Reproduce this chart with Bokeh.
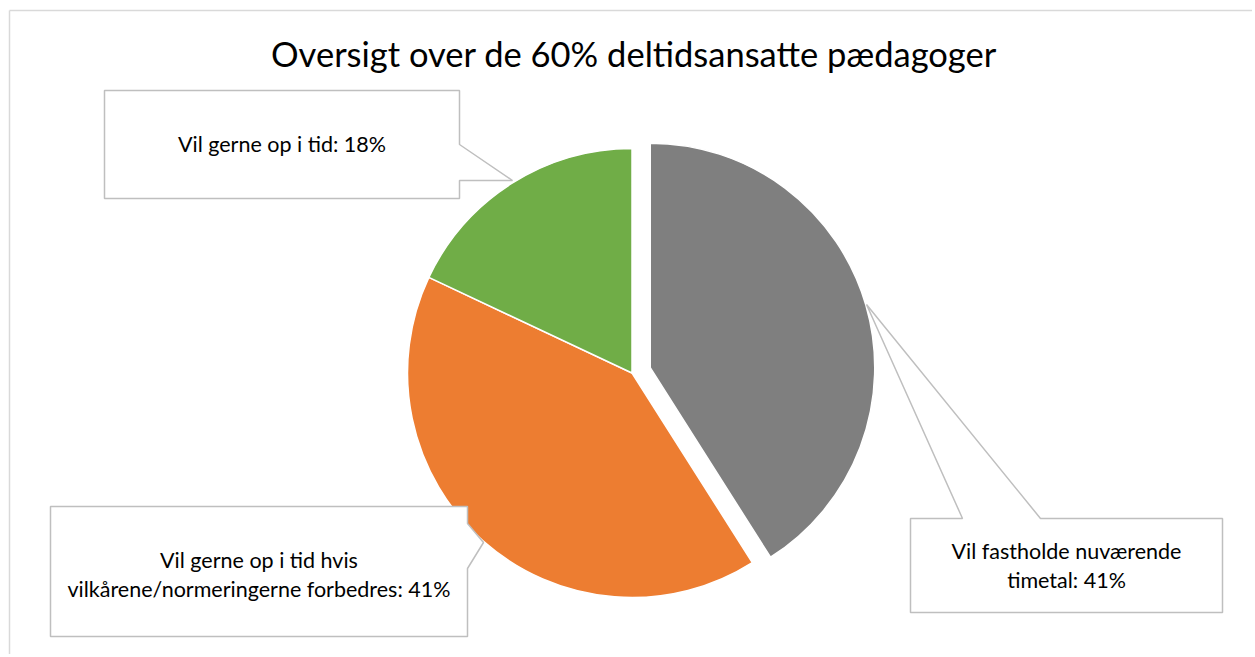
from bokeh.plotting import figure
from bokeh.models import Range1d
from bokeh.core.properties import value
from bokeh.embed import file_html
from bokeh.resources import INLINE
import numpy as np

# ---- data ----
title = "Oversigt over de 60% deltidsansatte pædagoger"
categories = ["Vil fastholde nuværende timetal",
              "Vil gerne op i tid hvis vilkårene/normeringerne forbedres",
              "Vil gerne op i tid"]
values = [41, 41, 18]
colors = ["#7f7f7f", "#ed7d31", "#70ad47"]
label_lines = [["Vil fastholde nuværende", "timetal: 41%"],
               ["Vil gerne op i tid hvis", "vilkårene/normeringerne forbedres: 41%"],
               ["Vil gerne op i tid: 18%"]]
explode = [19, 0, 0]

# ---- layout (screen pixel space) ----
W, H = 1252, 654
OX, OY = 0, 0


def sx(X):
    return X - OX


def sy(Y):
    return (OY + H) - Y


p = figure(width=W, height=H, output_backend="svg", toolbar_location=None,
           x_range=Range1d(0, W), y_range=Range1d(0, H),
           x_axis_type=None, y_axis_type=None,
           min_border=0, min_border_left=0, min_border_right=0,
           min_border_top=0, min_border_bottom=0)
p.grid.visible = False
p.outline_line_color = None
p.background_fill_color = "white"
p.border_fill_color = "white"

# outer chart-area border (right/bottom lie outside the window)
p.segment(x0=[sx(9), sx(9)], y0=[sy(10), sy(10)], x1=[sx(1300), sx(9)], y1=[sy(10), sy(700)],
          line_color="#d9d9d9", line_width=1.5)

# ---- pie ----
cx, cy, r = sx(631.5), sy(372.5), 224.5
total = float(sum(values))
cum = np.cumsum([0] + values) / total * 360.0
for i, v in enumerate(values):
    a0_cw, a1_cw = cum[i], cum[i + 1]
    start = np.deg2rad(90 - a1_cw)
    end = np.deg2rad(90 - a0_cw)
    mid = (start + end) / 2
    ox = cx + explode[i] * np.cos(mid)
    oy = cy + explode[i] * np.sin(mid)
    p.wedge(x=[ox], y=[oy], radius=r, start_angle=[start], end_angle=[end],
            fill_color=colors[i], line_color="white", line_width=1.5)

# ---- callouts ----
callouts = [
    # gray
    [(910, 518), (962, 518), (866, 304), (1040, 518), (1222, 518), (1222, 612), (910, 612)],
    # orange
    [(50, 506), (467, 506), (467, 523), (483, 542), (467, 568), (467, 636), (50, 636)],
    # green
    [(104, 90), (459, 90), (459, 144), (512, 180), (459, 180), (459, 198), (104, 198)],
]
for poly in callouts:
    p.patch(x=[sx(a) for a, b in poly], y=[sy(b) for a, b in poly],
            fill_color="white", line_color="#bfbfbf", line_width=1.5)

label_pos = [(1066, [550, 579]), (258.5, [559, 588]), (281.5, [143])]
FONT = value("Lato")
for i, lines in enumerate(label_lines):
    X, bases = label_pos[i]
    p.text(x=[sx(X)] * len(lines), y=[sy(b) for b in bases], text=lines,
           text_font=FONT, text_font_size=value("21.5px"), text_color="#000000",
           text_align="center", text_baseline="alphabetic")

p.text(x=[sx(633.5)], y=[sy(53)], text=[title], text_font=FONT,
       text_font_size=value("34.5px"), text_color="#000000",
       text_align="center", text_baseline="alphabetic")

open("out.html", "w").write(file_html(p, INLINE))
